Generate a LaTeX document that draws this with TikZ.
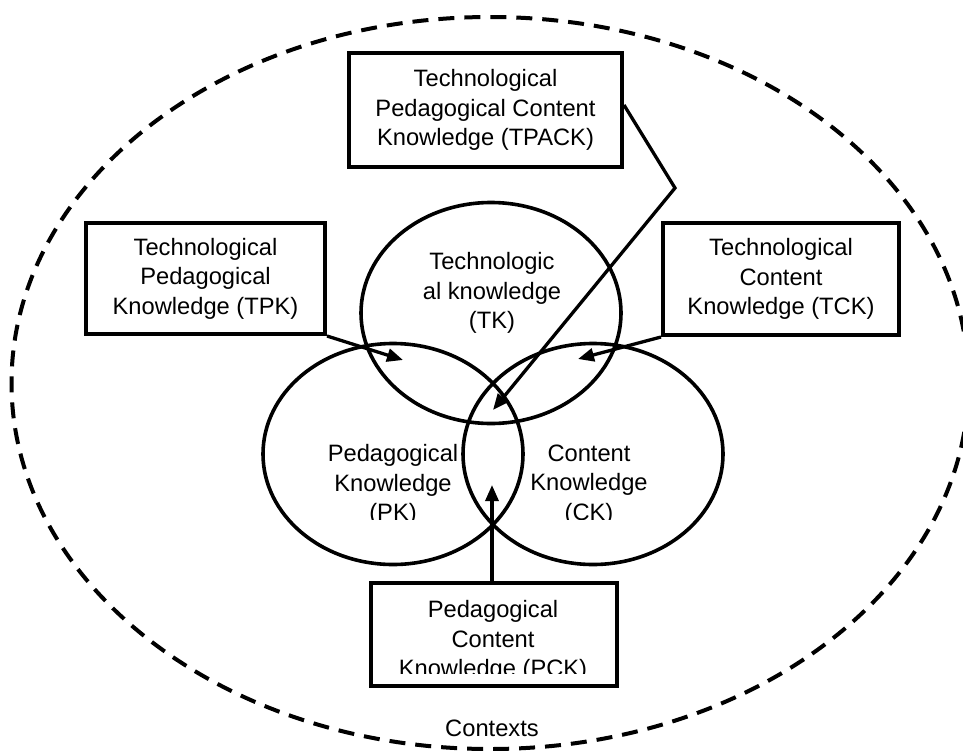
\documentclass[tikz,border=0pt]{standalone}
\usepackage{fontspec}
\setmainfont{Liberation Sans}
\usetikzlibrary{shapes.geometric,arrows.meta}
\newcommand{\lbfont}{\fontsize{23.7pt}{29.5pt}\selectfont}
\tikzset{
  kbox/.style={draw, line width=4pt, inner sep=0pt, align=center, font=\lbfont},
  ring/.style={draw, ellipse, line width=3.6pt, inner sep=0pt, minimum width=260pt, minimum height=221pt},
  lbl/.style={align=center, inner sep=0pt, font=\lbfont},
  conn/.style={line width=3.3pt, -{Triangle[length=16pt,width=13pt]}},
  ctxline/.style={draw, ellipse, line width=4pt, dash pattern=on 16pt off 10pt, inner sep=0pt}
}
\begin{document}
\begin{tikzpicture}[x=1pt,y=-1pt]
\useasboundingbox[fill=white] (0,0) rectangle (963,750);
% outer context
\node[ctxline, minimum width=957pt, minimum height=732pt] (ctx) at (490,383) {};
\node[lbl] (ctxlabel) at (492,728) {Contexts};
% three knowledge domains
\node[ring] (tk) at (491,313) {};
\node[ring] (pk) at (393,454) {};
\node[ring] (ck) at (593,454) {};
\node[lbl] (tktext) at (492,293) {Technologic\\al knowledge\\(TK)};
\begin{scope}
  \clip (250,420) rectangle (730,519);
  \node[lbl] (pktext) at (393,485) {Pedagogical\\Knowledge\\(PK)};
  \node[lbl] (cktext) at (589,485) {Content\\Knowledge\\(CK)};
\end{scope}
% boxes
\node[kbox, minimum width=273pt, minimum height=114pt] (tpack) at (485.5,110) {Technological\\Pedagogical Content\\Knowledge (TPACK)};
\node[kbox, minimum width=239pt, minimum height=111pt] (tpk) at (205.5,278.5) {Technological\\Pedagogical\\Knowledge (TPK)};
\node[kbox, minimum width=236pt, minimum height=112pt] (tck) at (781,279) {Technological\\Content\\Knowledge (TCK)};
\node[kbox, minimum width=246pt, minimum height=103pt] (pck) at (494,634.5) {};
\begin{scope}
  \clip (371,583) rectangle (617,673);
  \node[lbl] (pcktext) at (493,641) {Pedagogical\\Content\\Knowledge (PCK)};
\end{scope}
% connectors
\coordinate (tpktip) at (403,360);
\coordinate (tcktip) at (578,359);
\coordinate (bend) at (675,188);
\coordinate (tpacktip) at (493,410);
\coordinate (pcktip) at (492,485);
\draw[conn] (tpk.south east) -- (tpktip);
\draw[conn] (tck.south west) -- (tcktip);
\draw[conn, line join=miter] ([yshift=5pt]tpack.east) -- (bend) -- (tpacktip);
\draw[conn] ([xshift=-2pt]pck.north) -- (pcktip);
\end{tikzpicture}
\end{document}
